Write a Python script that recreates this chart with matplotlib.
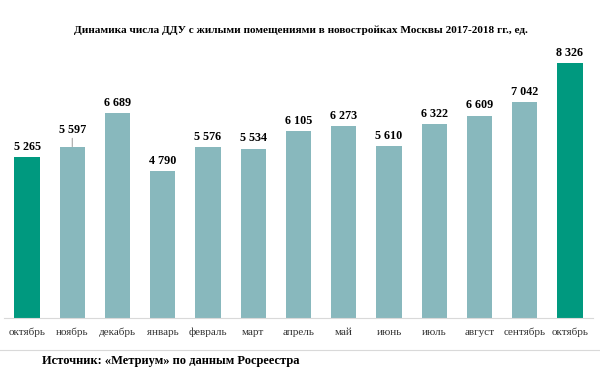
import matplotlib
matplotlib.use("Agg")
import matplotlib.pyplot as plt

# data
months = ['октябрь', 'ноябрь', 'декабрь', 'январь', 'февраль', 'март', 'апрель',
          'май', 'июнь', 'июль', 'август', 'сентябрь', 'октябрь']
contracts = [5265, 5597, 6689, 4790, 5576, 5534, 6105, 6273, 5610, 6322, 6609, 7042, 8326]
highlight = [0, 12]   # the two October bars are shown in green

title = 'Динамика числа ДДУ с жилыми помещениями в новостройках Москвы 2017-2018 гг., ед.'
source = 'Источник: «Метриум» по данным Росреестра'

GREEN = '#00997f'
GREY = '#88b8bd'

plt.rcParams['font.family'] = ['Liberation Serif', 'DejaVu Serif']

fig = plt.figure(figsize=(6, 3.76), dpi=100)
ax = fig.add_axes([0.0073, 0.154, 0.9804, 0.7396])

colors = [GREEN if i in highlight else GREY for i in range(len(contracts))]
x = range(len(contracts))
bars = ax.bar(x, contracts, width=0.56, color=colors)

ax.set_xlim(-0.5, len(contracts) - 0.5)
ax.set_ylim(0, 9077)

# value labels, one of them lifted with a small leader line
for i, v in enumerate(contracts):
    txt = f'{v:,}'.replace(',', ' ')
    if i == 1:
        ax.annotate(txt, xy=(i, v), xytext=(0, 8), textcoords='offset points',
                    ha='center', va='bottom', fontsize=8.7, fontweight='bold',
                    arrowprops=dict(arrowstyle='-', color='#999999', lw=0.7,
                                    shrinkA=0, shrinkB=0))
    else:
        ax.annotate(txt, xy=(i, v), xytext=(0, 3), textcoords='offset points',
                    ha='center', va='bottom', fontsize=8.7, fontweight='bold')

ax.set_xticks(list(x))
ax.set_xticklabels(months, fontsize=8, color='#333333')
ax.tick_params(axis='x', length=0, pad=7)
ax.set_yticks([])
for side in ['top', 'right', 'left']:
    ax.spines[side].set_visible(False)
ax.spines['bottom'].set_color('#d9d9d9')
ax.spines['bottom'].set_linewidth(0.8)

fig.text(0.502, 1 - 30 / 376, title, ha='center', va='center', fontsize=8.1, fontweight='bold')

# separator line above the source note
fig.add_artist(plt.Line2D([0, 1], [1 - 350 / 376] * 2, color='#d9d9d9', lw=0.8))
fig.text(0.07, 1 - 361 / 376, source, ha='left', va='center', fontsize=9, fontweight='bold')

fig.savefig('out.png', dpi=100)
